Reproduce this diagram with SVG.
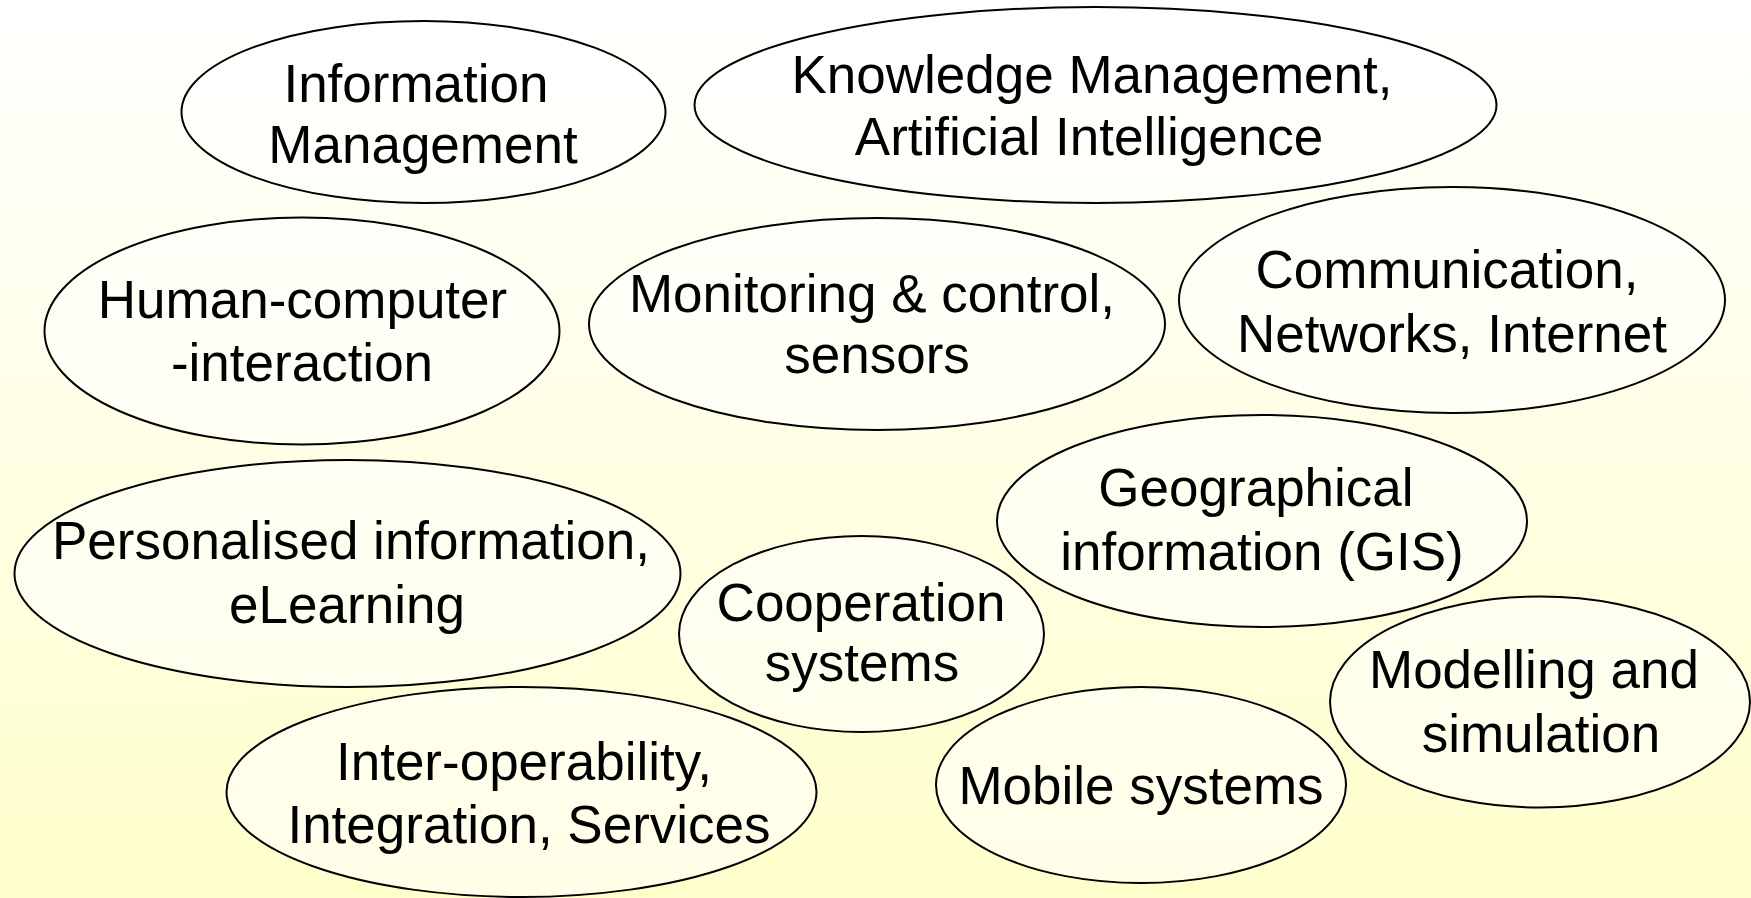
<svg xmlns="http://www.w3.org/2000/svg" width="1751" height="898" viewBox="0 0 1751 898">
<defs>
<linearGradient id="bg" x1="0" y1="0" x2="0" y2="1">
<stop offset="0" stop-color="#FFFFFF"/>
<stop offset="1" stop-color="#FFFFCC"/>
</linearGradient>
</defs>
<style>
.n ellipse{fill:#FFFFFF;fill-opacity:0.55;stroke:#000;stroke-width:2}
.n text{font-family:"Liberation Sans",Arial,sans-serif;font-size:53px;fill:#000;text-anchor:middle}
</style>
<rect x="0" y="0" width="1751" height="898" fill="url(#bg)"/>
<g id="connectors"/>
<g id="n-info" class="n"><ellipse cx="423.5" cy="112" rx="242" ry="91"/><text x="416" y="102">Information</text><text x="423" y="163">Management</text></g>
<g id="n-knowledge" class="n"><ellipse cx="1095.5" cy="105" rx="401" ry="98"/><text x="1092" y="93">Knowledge Management,</text><text x="1089" y="155">Artificial Intelligence</text></g>
<g id="n-hci" class="n"><ellipse cx="302" cy="331" rx="257.5" ry="113.5"/><text x="302.5" y="318">Human-computer</text><text x="302" y="381">-interaction</text></g>
<g id="n-monitor" class="n"><ellipse cx="877" cy="324" rx="288" ry="106"/><text x="872" y="312">Monitoring &amp; control,</text><text x="877" y="373">sensors</text></g>
<g id="n-comm" class="n"><ellipse cx="1452" cy="300" rx="273" ry="113"/><text x="1447" y="288">Communication,</text><text x="1452" y="352">Networks, Internet</text></g>
<g id="n-gis" class="n"><ellipse cx="1262" cy="521" rx="265" ry="106"/><text x="1256" y="506">Geographical</text><text x="1262" y="570">information (GIS)</text></g>
<g id="n-personal" class="n"><ellipse cx="347.5" cy="573.5" rx="333" ry="113.5"/><text x="351" y="559">Personalised information,</text><text x="347" y="623">eLearning</text></g>
<g id="n-coop" class="n"><ellipse cx="861.5" cy="634" rx="182.5" ry="98"/><text x="861" y="621">Cooperation</text><text x="862" y="681">systems</text></g>
<g id="n-interop" class="n"><ellipse cx="521.5" cy="792" rx="295" ry="105"/><text x="524" y="780">Inter-operability,</text><text x="529" y="843">Integration, Services</text></g>
<g id="n-mobile" class="n"><ellipse cx="1141" cy="785" rx="205" ry="98"/><text x="1141" y="804">Mobile systems</text></g>
<g id="n-model" class="n"><ellipse cx="1540" cy="702" rx="210" ry="105.5"/><text x="1534" y="688">Modelling and</text><text x="1541" y="752">simulation</text></g>
</svg>
